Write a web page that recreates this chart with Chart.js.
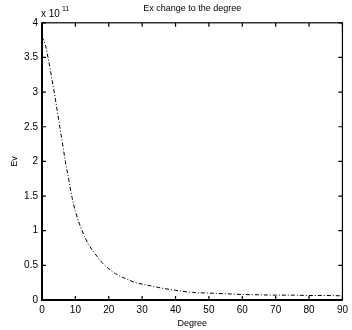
<!DOCTYPE html>
<html>
    <head>
        <script src="https://cdn.jsdelivr.net/npm/chart.js"></script>
    </head>
    <body>
        <div style="width: 352px; height: 330px;"><canvas id="evChart"></canvas></div>
        <script>
            // 읽어낸 값 (x 10^11)
            const degrees = [0, 1, 2, 3, 4, 5, 6, 7, 8, 9, 10, 12, 14, 16, 18, 20, 22, 24, 26, 28, 30, 35, 40, 45, 50, 55, 60, 65, 70, 75, 80, 85, 90];
            const evValues = [3.8, 3.68, 3.45, 3.18, 2.9, 2.6, 2.3, 2.0, 1.74, 1.48, 1.28, 1.0, 0.8, 0.66, 0.54, 0.45, 0.38, 0.33, 0.29, 0.25, 0.23, 0.18, 0.14, 0.11, 0.1, 0.09, 0.08, 0.075, 0.07, 0.07, 0.065, 0.065, 0.06];
            const titleText = 'Ex change to the degree';
            const xLabel = 'Degree';
            const yLabel = 'Ev';

            const points = degrees.map((d, i) => ({ x: d, y: evValues[i] }));

            // 상자 테두리 + 안쪽 눈금 (matlab 스타일)
            const boxPlugin = {
                id: 'box',
                afterDraw(chart) {
                    const c = chart.ctx;
                    const a = chart.chartArea;
                    const xs = chart.scales.x;
                    const ys = chart.scales.y;
                    c.save();
                    c.strokeStyle = '#000';
                    c.lineWidth = 1.2;
                    c.strokeRect(a.left, a.top, a.right - a.left, a.bottom - a.top);
                    c.beginPath();
                    xs.ticks.forEach(t => {
                        const px = xs.getPixelForValue(t.value);
                        c.moveTo(px, a.bottom); c.lineTo(px, a.bottom - 4);
                        c.moveTo(px, a.top); c.lineTo(px, a.top + 4);
                    });
                    ys.ticks.forEach(t => {
                        const py = ys.getPixelForValue(t.value);
                        c.moveTo(a.left, py); c.lineTo(a.left + 4, py);
                        c.moveTo(a.right, py); c.lineTo(a.right - 4, py);
                    });
                    c.stroke();
                    c.lineWidth = 2;
                    c.beginPath();
                    c.moveTo(a.left, a.top); c.lineTo(a.left, a.bottom); c.lineTo(a.right, a.bottom);
                    c.stroke();
                    // 지수 표시 x 10^11
                    c.fillStyle = '#000';
                    c.font = '10px "Liberation Sans"';
                    c.textBaseline = 'alphabetic';
                    c.fillText('x 10', a.left - 1, a.top - 6);
                    c.font = '7px "Liberation Sans"';
                    c.fillText('11', a.left + 20, a.top - 12);
                    c.restore();
                }
            };

            new Chart(document.getElementById('evChart'), {
                type: 'line',
                data: {
                    datasets: [{
                        data: points,
                        borderColor: '#000',
                        borderWidth: 1,
                        borderDash: [4, 2, 1, 2],
                        pointRadius: 0,
                        cubicInterpolationMode: 'monotone',
                        fill: false
                    }]
                },
                options: {
                    responsive: true,
                    maintainAspectRatio: false,
                    animation: false,
                    layout: { padding: { left: 0, right: 3, top: 0, bottom: 0 } },
                    plugins: {
                        legend: { display: false },
                        tooltip: { enabled: false },
                        title: {
                            display: true,
                            text: titleText,
                            color: '#000',
                            fullSize: false,
                            font: { family: 'Liberation Sans', size: 9, weight: 'normal' },
                            padding: { top: 3, bottom: 9 }
                        }
                    },
                    scales: {
                        x: {
                            type: 'linear',
                            min: 0,
                            max: 90,
                            ticks: { stepSize: 10, color: '#000', padding: 4, maxRotation: 0,
                                font: { family: 'Liberation Sans', size: 10 } },
                            grid: { display: false, drawTicks: false },
                            border: { display: false },
                            title: { display: true, text: xLabel, color: '#000', padding: { top: 0, bottom: 1 },
                                font: { family: 'Liberation Sans', size: 9 } },
                            afterFit(scale) { scale.height = 30; }
                        },
                        y: {
                            min: 0,
                            max: 4,
                            ticks: { stepSize: 0.5, color: '#000', padding: 4,
                                font: { family: 'Liberation Sans', size: 10 },
                                callback: v => String(v) },
                            grid: { display: false, drawTicks: false },
                            border: { display: false },
                            title: { display: true, text: yLabel, color: '#000', padding: { top: 9, bottom: 0 },
                                font: { family: 'Liberation Sans', size: 9 } },
                            afterFit(scale) { scale.width = 42; }
                        }
                    }
                },
                plugins: [boxPlugin]
            });
        </script>
    </body>
</html>

<style>
    body { margin: 0; background: #fff; }
</style>
